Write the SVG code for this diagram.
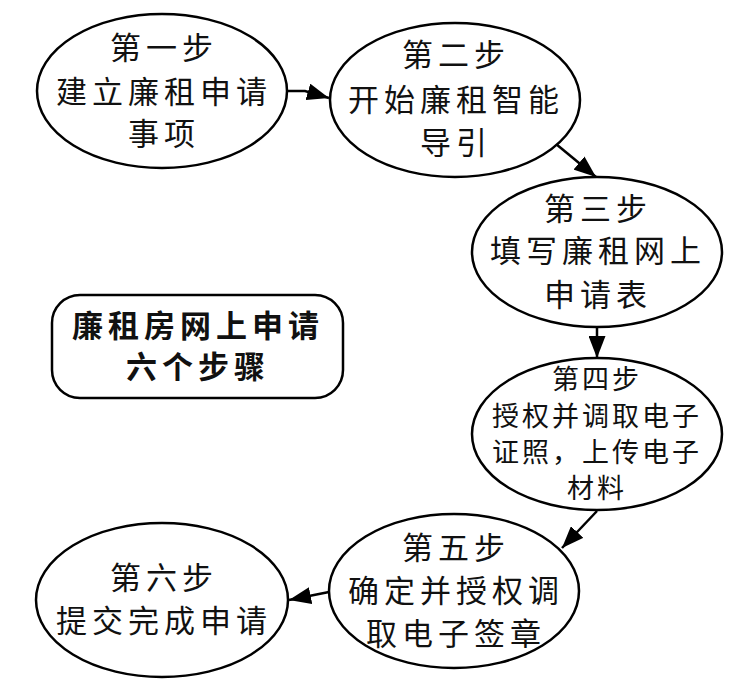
<svg xmlns="http://www.w3.org/2000/svg" width="750" height="694" viewBox="0 0 750 694">
<style>
.n{fill:#fff;stroke:#000;stroke-width:2.5}
.t{font-family:"Noto Sans CJK SC","Noto Sans CJK JP",sans-serif;font-size:31px;letter-spacing:5px;text-anchor:middle;fill:#111}
.s{font-size:27px;letter-spacing:3px}
.b{font-weight:bold}
.c{fill:none;stroke:#000;stroke-width:2.5}
</style>
<defs>
<marker id="ah" viewBox="0 0 10 10" refX="10" refY="5" markerUnits="userSpaceOnUse" markerWidth="22" markerHeight="17" orient="auto" preserveAspectRatio="none">
<path d="M0,0 L10,5 L0,10 z" fill="#000"/>
</marker>
</defs>
<rect width="750" height="694" fill="#fff"/>
<g id="connectors">
<path class="c" d="M288,91 L305,91 L329,98" marker-end="url(#ah)"/>
<path class="c" d="M556,144 L596,177" marker-end="url(#ah)"/>
<path class="c" d="M597,327 L597,358" marker-end="url(#ah)"/>
<path class="c" d="M597,511 L562,548" marker-end="url(#ah)"/>
<path class="c" d="M329,592 L289,600" marker-end="url(#ah)"/>
</g>
<g id="step1">
<ellipse class="n" cx="162" cy="91" rx="125" ry="77"/>
<text class="t" x="164" y="59">第一步</text>
<text class="t" x="164" y="103">建立廉租申请</text>
<text class="t" x="164" y="145">事项</text>
</g>
<g id="step2">
<ellipse class="n" cx="455" cy="100" rx="125" ry="77"/>
<text class="t" x="456" y="66">第二步</text>
<text class="t" x="456" y="111">开始廉租智能</text>
<text class="t" x="456" y="154">导引</text>
</g>
<g id="step3">
<ellipse class="n" cx="597" cy="252" rx="125" ry="75"/>
<text class="t" x="598" y="220">第三步</text>
<text class="t" x="598" y="262">填写廉租网上</text>
<text class="t" x="598" y="306">申请表</text>
</g>
<g id="step4">
<ellipse class="n" cx="597" cy="434" rx="125" ry="76"/>
<text class="t s" x="597" y="389">第四步</text>
<text class="t s" x="597" y="426">授权并调取电子</text>
<text class="t s" x="597" y="462">证照，上传电子</text>
<text class="t s" x="597" y="498">材料</text>
</g>
<g id="step5">
<ellipse class="n" cx="454" cy="591" rx="125" ry="77"/>
<text class="t" x="456" y="559">第五步</text>
<text class="t" x="456" y="602">确定并授权调</text>
<text class="t" x="456" y="645">取电子签章</text>
</g>
<g id="step6">
<ellipse class="n" cx="162" cy="600" rx="126" ry="77"/>
<text class="t" x="164" y="589">第六步</text>
<text class="t" x="164" y="632">提交完成申请</text>
</g>
<g id="title">
<rect class="n" x="52" y="295" width="291" height="103" rx="28" ry="28"/>
<text class="t b" x="198" y="337">廉租房网上申请</text>
<text class="t b" x="198" y="378">六个步骤</text>
</g>
</svg>
